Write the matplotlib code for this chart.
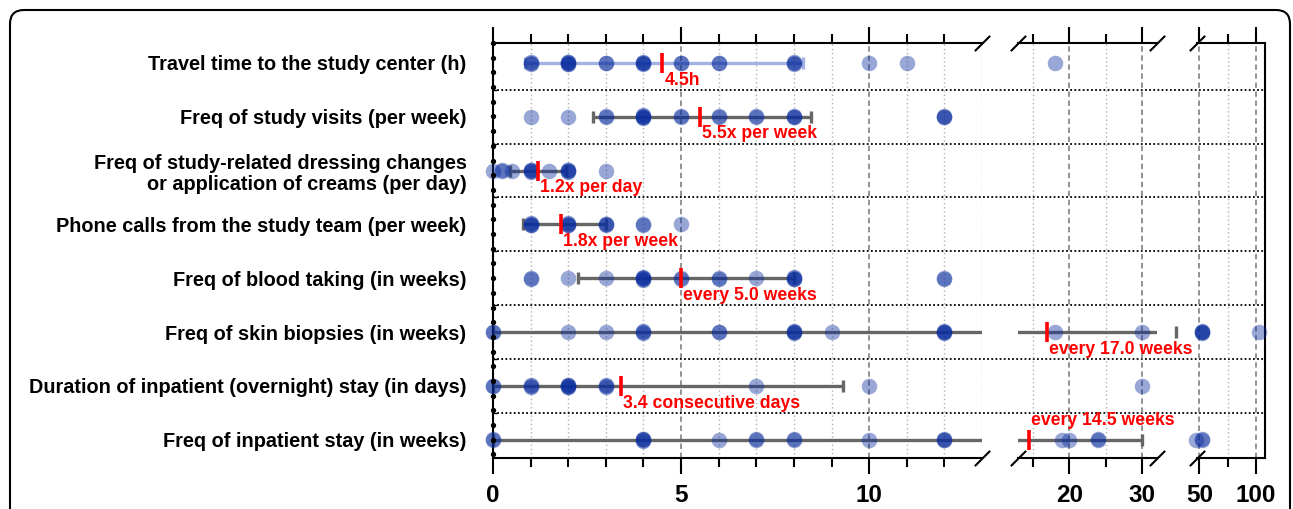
import matplotlib.pyplot as plt
import matplotlib.transforms as mtransforms
from matplotlib.patches import FancyBboxPatch
import numpy as np

plt.rcParams["font.family"] = ["Liberation Sans", "DejaVu Sans"]

# --- data ------------------------------------------------------------------
row_labels = [
    "Travel time to the study center (h)",
    "Freq of study visits (per week)",
    "Freq of study-related dressing changes\nor application of creams (per day)",
    "Phone calls from the study team (per week)",
    "Freq of blood taking (in weeks)",
    "Freq of skin biopsies (in weeks)",
    "Duration of inpatient (overnight) stay (in days)",
    "Freq of inpatient stay (in weeks)",
]

# individual answers, repeated values = several respondents with the same answer
travel_time = [1, 1, 1, 2, 2, 2, 2, 2, 3, 3, 4, 4, 4, 4, 5, 5, 6, 6, 8, 8, 8, 10, 11, 18]
study_visits = [1, 2, 3, 3, 4, 4, 4, 4, 4, 5, 5, 6, 6, 7, 7, 8, 8, 8, 12, 12, 12]
dressing_changes = [0, 0.25, 0.25, 0.5, 1, 1, 1, 1, 1.5, 2, 2, 2, 2, 3]
phone_calls = [1, 1, 1, 1, 2, 2, 2, 2, 3, 3, 3, 4, 4, 5]
blood_taking = [1, 1, 2, 3, 4, 4, 4, 4, 4, 5, 5, 6, 6, 7, 8, 8, 8, 8, 12, 12]
skin_biopsies = [0, 0, 2, 3, 4, 4, 4, 6, 6, 8, 8, 8, 8, 9, 12, 12, 12, 12,
                 18, 30, 52, 52, 52, 52, 103]
inpatient_days = [0, 0, 1, 1, 1, 2, 2, 2, 2, 2, 3, 3, 3, 7, 10, 30]
inpatient_freq = [0, 0, 4, 4, 4, 4, 6, 7, 7, 8, 8, 10, 12, 12, 12,
                  19, 20, 24, 24, 47, 52, 52]

row_points = [travel_time, study_visits, dressing_changes, phone_calls,
              blood_taking, skin_biopsies, inpatient_days, inpatient_freq]

means = [4.5, 5.5, 1.2, 1.8, 5.0, 17.0, 3.4, 14.5]
bar_lo = [0.85, 2.65, 0.45, 0.8, 2.25, 0, 0, 0]
bar_hi = [8.25, 8.45, 1.95, 3.0, 8.0, 34.6, 9.3, 30]
mean_labels = ["4.5h", "5.5x per week", "1.2x per day", "1.8x per week",
               "every 5.0 weeks", "every 17.0 weeks", "3.4 consecutive days",
               "every 14.5 weeks"]

# --- layout ----------------------------------------------------------------
W, H = 1293, 509
fig = plt.figure(figsize=(W / 100, H / 100), dpi=100)

AX_TOP, AX_BOT = 43, 458
segments = [
    # pixel left, pixel right, xlim, major ticks, minor ticks
    (493, 982, (0, 13), [0, 5, 10], [1, 2, 3, 4, 6, 7, 8, 9, 11, 12]),
    (1018, 1157, (13, 32), [20, 30], [15, 25]),
    (1197, 1265, (48, 108), [50, 100], [75]),
]
ylim = (7.34, -0.37)

point_color = "#0a2d9e"
bar_color = "#666666"
red = "#ff0000"

axes = []
for x0, x1, xlim, majors, minors in segments:
    ax = fig.add_axes([x0 / W, (H - AX_BOT) / H, (x1 - x0) / W, (AX_BOT - AX_TOP) / H])
    ax.set_xlim(xlim)
    ax.set_ylim(ylim)
    ax.set_xticks(majors)
    ax.set_xticks(minors, minor=True)
    ax.set_xticklabels([str(m) for m in majors], fontsize=17.5, fontweight="bold")
    ax.tick_params(axis="x", which="both", top=True, bottom=True, direction="out",
                   width=1.5, pad=7)
    ax.tick_params(axis="x", which="major", length=11.5)
    ax.tick_params(axis="x", which="minor", length=6.5)
    for sp in ax.spines.values():
        sp.set_linewidth(1.5)
    ax.spines["left"].set_visible(False)
    ax.spines["right"].set_visible(False)
    ax.set_yticks([])
    # vertical grid
    grid_minor = list(minors) + ([13] if xlim == (0, 13) else [])
    for g in grid_minor:
        ax.axvline(g, color="#b0b0b0", lw=1.0, ls=(0, (1, 2)), zorder=0)
    for g in majors:
        if g > xlim[0]:
            ax.axvline(g, color="#8a8a8a", lw=1.3, ls=(0, (3, 2)), zorder=0)
    ax.patch.set_alpha(0)
    axes.append(ax)

ax1, ax2, ax3 = axes
ax1.spines["left"].set_visible(True)
ax3.spines["right"].set_visible(True)

# row labels on the first segment
ax1.set_yticks(range(len(row_labels)))
ax1.set_yticklabels(row_labels, fontsize=14.3, fontweight="bold", linespacing=1.15)
ax1.tick_params(axis="y", length=0, pad=19)
ax1.set_yticks(np.arange(0.5, len(row_labels) - 0.5), minor=True)
ax1.tick_params(axis="y", which="minor", direction="in", length=3, width=1)

# dots along the left spine
spine_dots = np.arange(ylim[1], ylim[0], 0.273)
ax1.plot(np.zeros_like(spine_dots), spine_dots, "o", ms=2.8, color="k",
         clip_on=False, zorder=6)

# horizontal dotted separators running across the axis breaks
sep_tr = mtransforms.blended_transform_factory(fig.transFigure, ax1.transData)
for s in np.arange(0.5, len(row_labels) - 0.5):
    ax1.plot([493 / W, 1265 / W], [s, s], transform=sep_tr, color="k", lw=1.3,
             ls=(0, (1, 1.3)), clip_on=False, zorder=1)


def axis_for(v):
    for ax in axes:
        lo, hi = ax.get_xlim()
        if lo - 1e-9 <= v <= hi + 1e-9:
            return ax
    # value inside a gap: nearest segment edge
    dists = [min(abs(v - a.get_xlim()[0]), abs(v - a.get_xlim()[1])) for a in axes]
    return axes[int(np.argmin(dists))]


def cap_axis(v):
    for ax in axes:
        lo, hi = ax.get_xlim()
        if lo <= v <= hi:
            return ax
    left = [a for a in axes if a.get_xlim()[1] < v]
    return left[-1] if left else axes[0]


for i, pts in enumerate(row_points):
    col = "#a3b2e4" if i == 0 else bar_color
    # error bar line (clipped on every segment)
    for ax in axes:
        ax.plot([bar_lo[i], bar_hi[i]], [i, i], color=col, lw=2.4,
                solid_capstyle="butt", zorder=2)
    for v in (bar_lo[i], bar_hi[i]):
        cap_axis(v).plot([v], [i], marker="|", ms=9, mew=2.4, color=col,
                         clip_on=False, zorder=2)
    # individual answers
    vals, counts = np.unique(pts, return_counts=True)
    for v, n in zip(vals, counts):
        ax = axis_for(v)
        dy = (np.arange(n) - (n - 1) / 2) * 0.012
        ax.scatter(np.full(n, v), i + dy, s=125, color=point_color, alpha=0.42,
                   linewidths=0, clip_on=False, zorder=3)
    # mean marker and label
    ax = axis_for(means[i])
    ax.plot([means[i]], [i], marker="|", ms=14, mew=2.6, color=red,
            clip_on=False, zorder=5)
    above = i == len(row_points) - 1
    tr = mtransforms.offset_copy(ax.transData, fig=fig, x=2, y=0, units="dots")
    ax.text(means[i], i - 0.36 if above else i + 0.32, mean_labels[i],
            transform=tr, color=red, fontsize=12.7, fontweight="bold",
            ha="left", va="center", zorder=6)

# break marks
slash = dict(marker=[(-1, -1), (1, 1)], markersize=11, linestyle="none",
             color="k", mec="k", mew=1.5, clip_on=False, zorder=7)
for ax, xs in ((ax1, [1]), (ax2, [0, 1]), (ax3, [0])):
    for xf in xs:
        ax.plot([xf, xf], [0, 1], transform=ax.transAxes, **slash)

# rounded frame around the panel
frame = FancyBboxPatch((10, -30), 1280, H - 10 + 30,
                       boxstyle="round,pad=0,rounding_size=14",
                       transform=None, fill=False, lw=1.5, ec="k")
fig.patches.append(frame)

fig.savefig("out.png", dpi=100)
